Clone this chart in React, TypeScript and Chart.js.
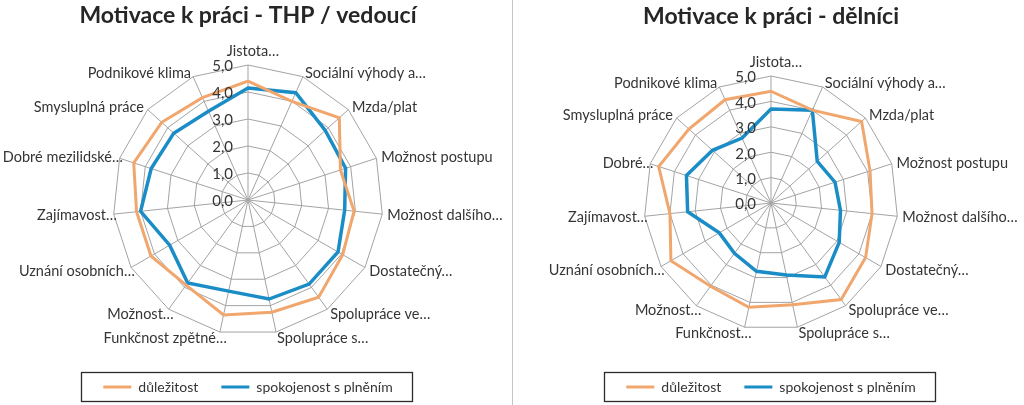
import React, { useEffect, useRef } from "react";
import { Chart, registerables } from "chart.js";

Chart.register(...registerables);

const categoriesTHP = [
  "Jistota…",
  "Sociální výhody a…",
  "Mzda/plat",
  "Možnost postupu",
  "Možnost dalšího…",
  "Dostatečný…",
  "Spolupráce ve…",
  "Spolupráce s…",
  "Funkčnost zpětné…",
  "Možnost…",
  "Uznání osobních…",
  "Zajímavost…",
  "Dobré mezilidské…",
  "Smysluplná práce",
  "Podnikové klima",
];

const categoriesDelnici = [
  "Jistota…",
  "Sociální výhody a…",
  "Mzda/plat",
  "Možnost postupu",
  "Možnost dalšího…",
  "Dostatečný…",
  "Spolupráce ve…",
  "Spolupráce s…",
  "Funkčnost…",
  "Možnost…",
  "Uznání osobních…",
  "Zajímavost…",
  "Dobré…",
  "Smysluplná práce",
  "Podnikové klima",
];

const seriesNames = ["důležitost", "spokojenost s plněním"];

const importanceTHP = [4.4, 4.0, 4.55, 3.6, 3.95, 4.05, 4.45, 4.25, 4.35, 3.9, 4.15, 4.15, 4.45, 4.3, 4.15];
const satisfactionTHP = [4.15, 4.35, 3.85, 3.8, 3.6, 3.85, 3.85, 3.75, 3.45, 3.8, 3.35, 4.0, 3.77, 3.7, 3.6];

const importanceDelnici = [4.4, 4.0, 4.8, 4.1, 4.0, 4.3, 4.7, 4.1, 4.2, 4.05, 4.55, 4.0, 4.65, 4.35, 4.45];
const satisfactionDelnici = [3.7, 4.0, 2.45, 2.65, 2.75, 3.1, 3.6, 2.9, 2.75, 2.45, 2.35, 3.3, 3.5, 3.1, 2.8];

const tickValues = [0, 1, 2, 3, 4, 5];
const tickLabels = ["0,0", "1,0", "2,0", "3,0", "4,0", "5,0"];

const ORANGE = "#F0A66C";
const BLUE = "#1B8DC6";
const TEXT = "#353535";
const GRID = "#a3a3a3";
const FONT = "Lato, 'Open Sans', sans-serif";
const LABEL_GAP = 5;

const tickPlugin = {
  id: "tickLabelsLeft",
  afterDatasetsDraw(chart: any) {
    const scale = chart.scales.r;
    const ctx = chart.ctx;
    ctx.save();
    ctx.font = `15px ${FONT}`;
    ctx.fillStyle = TEXT;
    ctx.textAlign = "right";
    ctx.textBaseline = "middle";
    tickValues.forEach((v, i) => {
      const d = scale.getDistanceFromCenterForValue(v);
      ctx.fillText(tickLabels[i], scale.xCenter - 15, scale.yCenter - d + 1.5);
    });
    ctx.restore();
  },
};

// Excel-like placement of category labels around the outer ring
const pointLabelPlugin = {
  id: "excelPointLabels",
  afterDatasetsDraw(chart: any) {
    const scale = chart.scales.r;
    const ctx = chart.ctx;
    const labels: string[] = chart.data.labels;
    ctx.save();
    ctx.font = `14.5px ${FONT}`;
    ctx.fillStyle = TEXT;
    ctx.textAlign = "left";
    ctx.textBaseline = "middle";
    labels.forEach((lab, i) => {
      const pos = scale.getPointPosition(i, scale.drawingArea + LABEL_GAP);
      const deg = Math.round((scale.getIndexAngle(i) * 180) / Math.PI) % 360;
      const trunc = lab.endsWith("…");
      const w = ctx.measureText(lab).width;
      let x: number;
      if (deg === 0 || deg === 180) x = pos.x - w / 2 + (trunc ? 5 : 0);
      else if (deg < 180) x = pos.x;
      else x = pos.x - w + (trunc ? 8 : 0);
      const y = deg === 0 ? pos.y - 9 : pos.y + 1;
      ctx.fillText(lab, x, y);
    });
    ctx.restore();
  },
};

const legendBoxPlugin = {
  id: "legendBox",
  afterDraw(chart: any) {
    const lg = chart.legend;
    if (!lg || !lg.legendHitBoxes || !lg.legendHitBoxes.length) return;
    const boxes = lg.legendHitBoxes;
    let l = Infinity, r = -Infinity, t = Infinity;
    boxes.forEach((h: any) => {
      l = Math.min(l, h.left);
      r = Math.max(r, h.left + h.width);
      t = Math.min(t, h.top);
    });
    const ctx = chart.ctx;
    ctx.save();
    ctx.strokeStyle = "#2b2b2b";
    ctx.lineWidth = 1.3;
    ctx.strokeRect(Math.round(l - 22) + 0.5, Math.round(t - 8) + 0.5, Math.round(r - l + 42), 29);
    ctx.restore();
  },
};

function RadarPanel(props: {
  title: string;
  labels: string[];
  a: number[];
  b: number[];
  width: number;
  padding: any;
  geom: { cx: number; cy: number; r: number };
}) {
  const ref = useRef<HTMLCanvasElement>(null);
  useEffect(() => {
    if (!ref.current) return;
    const geom = props.geom;
    const chart = new Chart(ref.current, {
      type: "radar",
      data: {
        labels: props.labels,
        datasets: [
          {
            label: seriesNames[0],
            data: props.a,
            borderColor: ORANGE,
            backgroundColor: "transparent",
            borderWidth: 3,
            pointRadius: 0,
            fill: false,
          },
          {
            label: seriesNames[1],
            data: props.b,
            borderColor: BLUE,
            backgroundColor: "transparent",
            borderWidth: 3.5,
            pointRadius: 0,
            fill: false,
          },
        ],
      },
      options: {
        animation: false,
        responsive: false,
        events: [],
        layout: { padding: props.padding },
        scales: {
          r: {
            min: 0,
            max: 5,
            ticks: { stepSize: 1, display: false },
            grid: { color: GRID, lineWidth: 1 },
            angleLines: { color: GRID, lineWidth: 1 },
            pointLabels: { display: false },
            afterFit: (s: any) => {
              s.xCenter = geom.cx;
              s.yCenter = geom.cy;
              s.drawingArea = geom.r;
            },
          },
        },
        plugins: {
          title: {
            display: true,
            text: props.title,
            font: { family: FONT, size: 23, weight: "bold" },
            color: "#262626",
            padding: { top: 0, bottom: 6 },
          },
          legend: {
            position: "bottom",
            labels: {
              font: { family: FONT, size: 14 },
              color: TEXT,
              boxWidth: 28,
              boxHeight: 3,
              padding: 23,
              generateLabels: (c: any) =>
                c.data.datasets.map((ds: any, i: number) => ({
                  text: ds.label,
                  fillStyle: ds.borderColor,
                  strokeStyle: ds.borderColor,
                  lineWidth: 0,
                  hidden: false,
                  datasetIndex: i,
                  fontColor: TEXT,
                })),
            },
          },
          tooltip: { enabled: false },
        },
      },
      plugins: [pointLabelPlugin, tickPlugin, legendBoxPlugin],
    });
    return () => chart.destroy();
  }, []);
  return (
    <canvas
      ref={ref}
      width={props.width}
      height={405}
      style={{ display: "block", width: props.width, height: 405 }}
    />
  );
}

export default function App() {
  return (
    <div
      style={{
        position: "fixed",
        left: 0,
        top: 0,
        width: 1024,
        height: 405,
        background: "#fff",
        display: "flex",
      }}
    >
      <RadarPanel
        title="Motivace k práci - THP / vedoucí"
        labels={categoriesTHP}
        a={importanceTHP}
        b={satisfactionTHP}
        width={512}
        padding={{ top: 2, bottom: 1, left: 0, right: 16 }}
        geom={{ cx: 248, cy: 200, r: 135 }}
      />
      <div style={{ width: 1, height: 405, background: "#c4c4c4" }} />
      <RadarPanel
        title="Motivace k práci - dělníci"
        labels={categoriesDelnici}
        a={importanceDelnici}
        b={satisfactionDelnici}
        width={511}
        padding={{ top: 3, bottom: 1, left: 5, right: 0 }}
        geom={{ cx: 258, cy: 203, r: 127 }}
      />
    </div>
  );
}
